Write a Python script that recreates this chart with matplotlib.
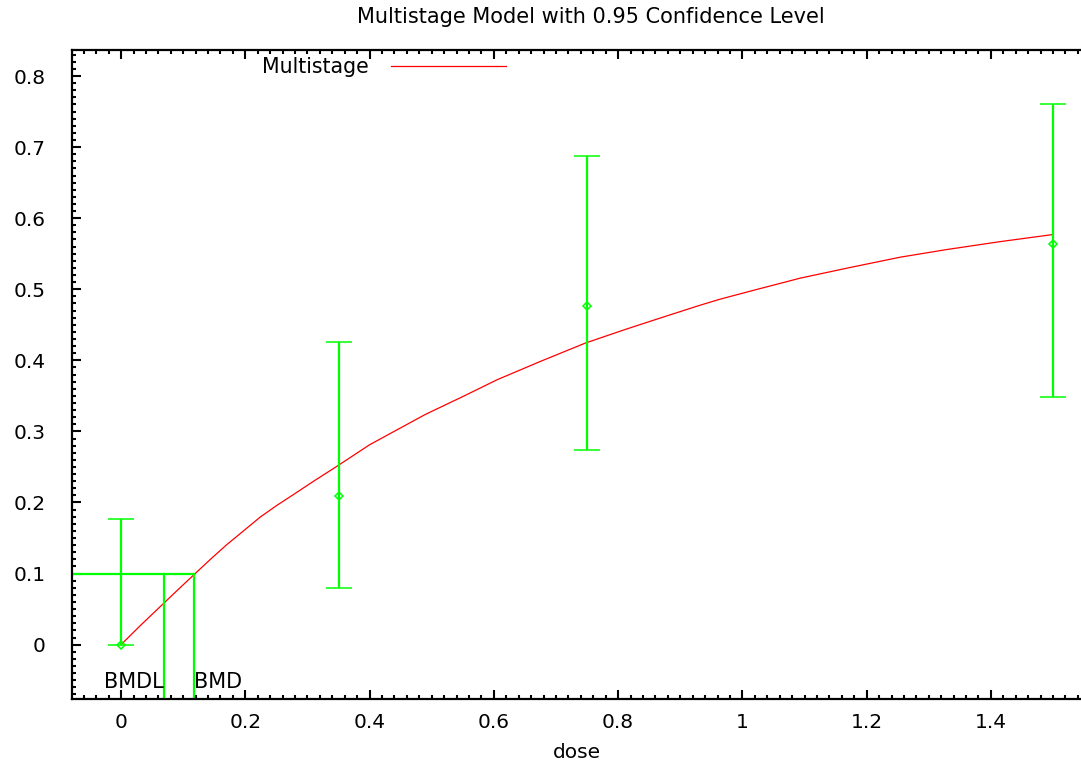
import matplotlib
matplotlib.use('Agg')
import matplotlib.pyplot as plt
from matplotlib.ticker import MultipleLocator

plt.rcParams['font.family'] = ['DejaVu Sans']

# observed data with confidence limits
dose = [0.0, 0.35, 0.75, 1.5]
resp = [0.0, 0.2085, 0.4766, 0.5638]
lower = [0.0, 0.0797, 0.274, 0.349]
upper = [0.177, 0.4255, 0.688, 0.760]

# fitted multistage curve
curve_dose = [0.0, 0.03, 0.06, 0.09, 0.119, 0.145, 0.170, 0.197, 0.224, 0.25,
              0.277, 0.31, 0.347, 0.40, 0.45, 0.49, 0.55, 0.605, 0.675, 0.747,
              0.81, 0.867, 0.93, 0.964, 1.02, 1.093, 1.17, 1.254, 1.33, 1.415, 1.5]
curve_resp = [0.0, 0.026, 0.051, 0.076, 0.0998, 0.121, 0.1406, 0.160, 0.1795, 0.1955,
              0.2109, 0.230, 0.2507, 0.2812, 0.305, 0.324, 0.349, 0.3726, 0.3985, 0.4242,
              0.443, 0.4593, 0.477, 0.486, 0.499, 0.5156, 0.530, 0.5451, 0.556, 0.567, 0.577]

bmr = 0.1
bmdl = 0.069
bmd = 0.1175

green = '#00ff00'

fig = plt.figure(figsize=(10.81, 7.65), dpi=100)
ax = fig.add_axes([72 / 1081, 1 - 699 / 765, 1 - 72 / 1081, 649 / 765])

ax.plot(curve_dose, curve_resp, color='red', lw=0.9, label='Multistage')

yerr = [[r - l for r, l in zip(resp, lower)], [u - r for r, u in zip(resp, upper)]]
ax.errorbar(dose, resp, yerr=yerr, fmt='D', color=green, ms=4.5, mfc='none',
            mew=1.1, ecolor=green, elinewidth=1.6, capsize=9.5, capthick=1.6)

# BMD / BMDL markers
ylo = -0.0765
ax.plot([-0.079, bmd], [bmr, bmr], color=green, lw=1.6)
ax.plot([bmdl, bmdl], [ylo, bmr], color=green, lw=1.6)
ax.plot([bmd, bmd], [ylo, bmr], color=green, lw=1.6)
ax.text(bmdl, -0.052, 'BMDL', ha='right', va='center', fontsize=15)
ax.text(bmd, -0.052, 'BMD', ha='left', va='center', fontsize=15)

ax.set_xlim(-0.079, 1.545)
ax.set_ylim(ylo, 0.8366)

ax.xaxis.set_minor_locator(MultipleLocator(0.02))
ax.yaxis.set_minor_locator(MultipleLocator(0.01))
ax.set_xticks([0, 0.2, 0.4, 0.6, 0.8, 1, 1.2, 1.4])
ax.set_xticklabels(['0', '0.2', '0.4', '0.6', '0.8', '1', '1.2', '1.4'])
ax.set_yticks([0, 0.1, 0.2, 0.3, 0.4, 0.5, 0.6, 0.7, 0.8])
ax.set_yticklabels(['0', '0.1', '0.2', '0.3', '0.4', '0.5', '0.6', '0.7', '0.8'])

ax.tick_params(which='both', direction='in', top=True, right=False, width=1.5)
ax.tick_params(which='major', length=6.5, labelsize=14.5)
ax.tick_params(which='minor', length=3)
ax.tick_params(axis='y', which='major', pad=19)
ax.tick_params(axis='x', which='major', pad=10)

for s in ['left', 'bottom', 'top']:
    ax.spines[s].set_linewidth(1.6)
ax.spines['right'].set_visible(False)

ax.set_xlabel('dose', fontsize=14.5, labelpad=8)
fig.text(591 / 1081, 1 - 17 / 765, 'Multistage Model with 0.95 Confidence Level',
         ha='center', va='center', fontsize=15)

ax.legend(loc='upper left', bbox_to_anchor=(0.172, 1.014), frameon=False,
          markerfirst=False, handlelength=5.6, handletextpad=1.1, fontsize=14.8,
          borderpad=0.3)

fig.savefig('out.png', dpi=100)
